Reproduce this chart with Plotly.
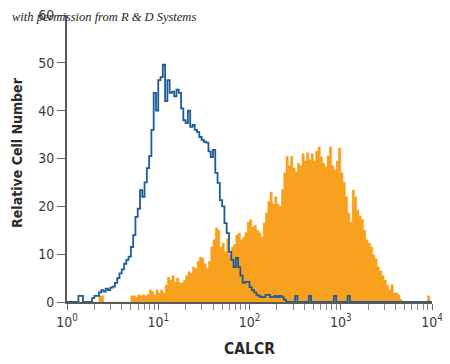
import numpy as np
import plotly.graph_objects as go

# Histogram channels: 160 bins, each 0.025 decade wide, spanning 10^0 .. 10^4
n_bins = 160
decade_start, decade_end = 0.0, 4.0

isotype_counts = [
    0, 0, 0, 0, 0, 1.3, 1.3, 0, 0, 0,
    0, 0.8, 1.3, 1.3, 2.0, 2.5, 2.2, 2.8, 2.5, 3.0,
    3.2, 4.0, 5.0, 6.0, 6.8, 8.0, 8.8, 9.5, 11.5, 14.0,
    17.8, 19.5, 23.4, 22.0, 25.0, 28.0, 30.5, 36.0, 43.7, 40.0,
    46.4, 47.0, 49.6, 42.0, 46.4, 43.7, 44.0, 43.0, 44.4, 43.7,
    40.5, 38.0, 37.4, 40.0, 36.6, 37.0, 36.0, 35.5, 34.5, 33.9,
    33.5, 33.3, 31.5, 30.3, 31.8, 27.0, 24.9, 21.3, 20.0, 16.5,
    14.4, 10.5, 8.8, 7.3, 9.2, 7.3, 5.5, 4.0, 4.2, 4.2,
    3.1, 2.5, 2.0, 1.5, 1.2, 1.0, 1.0, 1.5, 1.5, 1.0,
    1.0, 1.3, 1.0, 1.3, 1.0, 0.5, 0, 0, 0, 0,
    1.3, 0, 0, 0, 0, 0, 1.3, 0, 0, 0,
    0, 0, 0, 0, 0, 0, 0, 1.3, 0, 0,
    0, 0, 0, 1.3, 0, 0, 0, 0, 0, 0,
    0, 0, 0, 0, 0, 0, 0, 0, 0, 0,
    0, 0, 0, 0, 0, 0, 0, 0, 0, 0,
    0, 0, 0, 0, 0, 0, 0, 0, 0, 0,
]

calcr_counts = [
    0, 0, 0, 0, 0, 0, 0, 0, 0, 0,
    0, 0, 0, 0, 1.3, 1.3, 0, 0, 0, 0,
    0, 0, 0, 0, 0, 0, 0, 0, 1.3, 1.3,
    1.0, 1.5, 1.3, 1.5, 1.3, 1.5, 2.5, 2.2, 1.5, 2.5,
    1.9, 2.5, 1.9, 3.5, 5.2, 4.6, 5.5, 4.2, 5.0, 4.0,
    4.0, 4.5, 5.5, 6.3, 6.0, 7.3, 7.0, 8.5, 9.4, 9.2,
    8.0, 7.0, 8.5, 11.5, 13.0, 15.5, 15.0, 11.5, 12.3, 10.5,
    13.2, 9.8, 11.5, 12.0, 14.0, 14.4, 13.0, 13.5, 14.5, 16.7,
    17.2, 15.7, 16.0, 15.0, 14.5, 13.6, 16.5, 18.6, 21.0, 23.0,
    20.5, 22.0, 20.5, 20.0, 23.5, 27.0, 30.4, 28.5, 30.4, 28.0,
    27.2, 29.0, 28.5, 31.0, 29.5, 31.2, 29.7, 31.0, 29.5, 31.5,
    32.4, 30.3, 29.0, 28.3, 30.5, 32.4, 28.5, 27.6, 29.5, 32.2,
    27.0, 25.0, 22.0, 18.6, 16.7, 23.4, 22.0, 19.2, 18.0, 17.2,
    15.0, 13.0, 12.3, 11.5, 9.8, 9.0, 7.3, 6.5, 5.5, 4.6,
    3.5, 2.5, 3.6, 1.9, 1.9, 1.5, 0.5, 0, 0, 0,
    0, 0, 0, 0, 0, 0, 0, 0, 1.3, 0,
]

x_tick_values = [1, 10, 100, 1000, 10000]
x_tick_labels = ["10<sup>0</sup>", "10<sup>1</sup>", "10<sup>2</sup>", "10<sup>3</sup>", "10<sup>4</sup>"]
y_tick_values = [0, 10, 20, 30, 40, 50, 60]

edges = 10 ** np.linspace(decade_start, decade_end, n_bins + 1)
x_steps = list(edges)

def steps(vals):
    return list(vals) + [vals[-1]]

minor_vals = [m * 10 ** d for d in range(4) for m in range(2, 10)]

fig = go.Figure()
fig.add_trace(go.Scatter(
    x=x_steps, y=steps(calcr_counts), mode="lines", line_shape="hv",
    line=dict(color="#F7A11E", width=0.5), fill="tozeroy", fillcolor="#F7A11E",
    hoverinfo="skip", showlegend=False,
))
fig.add_trace(go.Scatter(
    x=x_steps, y=steps(isotype_counts), mode="lines", line_shape="hv",
    line=dict(color="#1E5C95", width=1.8),
    hoverinfo="skip", showlegend=False,
))

cond = "DejaVu Sans Condensed, Liberation Sans Narrow, Arial Narrow, sans-serif"
axis_font = dict(family=cond, size=14, color="#3a3a3a")

# The page body adds an 8px offset; the figure fills the rest of the 450x364 window.
fig.update_layout(
    width=442, height=356,
    margin=dict(l=59, r=18, t=7, b=62),
    paper_bgcolor="white", plot_bgcolor="white",
    xaxis=dict(
        type="log", range=[0, 4], automargin=False,
        tickvals=x_tick_values, ticktext=x_tick_labels,
        ticks="outside", ticklen=6, tickwidth=1, tickcolor="#6b6b6b",
        showline=True, linecolor="#5a5a5a", linewidth=2,
        showgrid=False, zeroline=False, ticklabeloverflow="allow",
        tickfont=axis_font,
        minor=dict(tickvals=minor_vals, ticks="outside", ticklen=6, tickcolor="#8a8a8a", showgrid=False),
        title=dict(text="<b>CALCR</b>", font=dict(family=cond, size=15.5, color="#2a2a2a"), standoff=14),
    ),
    yaxis=dict(
        range=[0, 60], tickvals=y_tick_values, automargin=False,
        ticks="outside", ticklen=8, tickwidth=1, tickcolor="#6b6b6b",
        showline=True, linecolor="#5a5a5a", linewidth=2,
        showgrid=False, zeroline=False, ticklabeloverflow="allow",
        tickfont=axis_font,
    ),
    annotations=[
        dict(
            text="<i>with permission from R &amp; D Systems</i>",
            xref="paper", yref="paper", x=-0.156, y=0.993,
            xanchor="left", yanchor="middle", showarrow=False,
            font=dict(family="Liberation Serif, serif", size=12.5, color="#222222"),
        ),
        dict(
            text="<b>Relative Cell Number</b>", textangle=-90,
            xref="paper", yref="paper", x=-0.137, y=0.523,
            xanchor="center", yanchor="middle", showarrow=False,
            font=dict(family=cond, size=14, color="#2a2a2a"),
        ),
    ],
)

fig.write_html("out.html")
